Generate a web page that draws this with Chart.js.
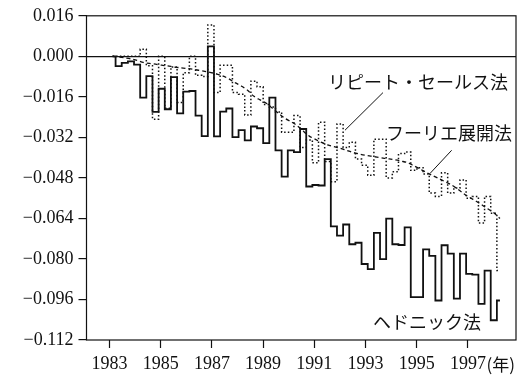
<!DOCTYPE html>
<html><head><meta charset="utf-8">
<script src="https://cdn.jsdelivr.net/npm/chart.js@4"></script>
<style>html,body{margin:0;padding:0;background:#fff}</style>
</head><body>
<canvas id="c" width="522" height="375"></canvas>
<script>
// quarterly periods 1983Q1 .. 1998Q4
const years = [1983,1984,1985,1986,1987,1988,1989,1990,1991,1992,1993,1994,1995,1996,1997,1998];
const quarters = [];
years.forEach(y => { for (let q = 1; q <= 4; q++) quarters.push(y + 'Q' + q); });

const hedonic = [
  0.0000,-0.0039,-0.0026,-0.0020,-0.0033,-0.0163,-0.0078,-0.0219,
 -0.0128,-0.0209,-0.0082,-0.0225,-0.0139,-0.0137,-0.0234,-0.0315,
  0.0039,-0.0316,-0.0218,-0.0206,-0.0319,-0.0291,-0.0332,-0.0277,
 -0.0284,-0.0343,-0.0163,-0.0371,-0.0475,-0.0371,-0.0378,-0.0287,
 -0.0514,-0.0508,-0.0510,-0.0406,-0.0671,-0.0708,-0.0664,-0.0742,
 -0.0736,-0.0820,-0.0840,-0.0697,-0.0801,-0.0641,-0.0742,-0.0745,
 -0.0675,-0.0951,-0.0951,-0.0762,-0.0788,-0.0964,-0.0746,-0.0779,
 -0.0957,-0.0779,-0.0859,-0.0862,-0.0977,-0.0846,-0.1042,-0.0964
];
const repeatSales = [
  0.0000, 0.0000, 0.0000, 0.0000, 0.0000, 0.0028,-0.0037,-0.0248,
  0.0000,-0.0205,-0.0042,-0.0182,-0.0065, 0.0000,-0.0075,-0.0080,
  0.0124,-0.0143,-0.0035,-0.0035,-0.0143,-0.0150,-0.0232,-0.0098,
 -0.0120,-0.0190,-0.0200,-0.0220,-0.0300,-0.0300,-0.0234,-0.0360,
 -0.0330,-0.0420,-0.0260,-0.0415,-0.0495,-0.0267,-0.0360,-0.0339,
 -0.0405,-0.0430,-0.0470,-0.0327,-0.0327,-0.0480,-0.0456,-0.0384,
 -0.0378,-0.0450,-0.0440,-0.0465,-0.0540,-0.0553,-0.0460,-0.0540,
 -0.0520,-0.0488,-0.0560,-0.0553,-0.0658,-0.0553,-0.0620,-0.0846
];
const fourier = [
  0.0000,-0.0003,-0.0006,-0.0010,-0.0016,-0.0024,-0.0028,-0.0031,
 -0.0035,-0.0038,-0.0042,-0.0045,-0.0048,-0.0051,-0.0055,-0.0059,
 -0.0064,-0.0070,-0.0078,-0.0090,-0.0105,-0.0118,-0.0135,-0.0158,
 -0.0172,-0.0185,-0.0205,-0.0225,-0.0244,-0.0258,-0.0273,-0.0295,
 -0.0315,-0.0328,-0.0340,-0.0350,-0.0357,-0.0363,-0.0371,-0.0379,
 -0.0385,-0.0390,-0.0394,-0.0398,-0.0402,-0.0405,-0.0409,-0.0414,
 -0.0420,-0.0432,-0.0445,-0.0458,-0.0470,-0.0482,-0.0494,-0.0506,
 -0.0522,-0.0540,-0.0556,-0.0570,-0.0585,-0.0602,-0.0618,-0.0640
];
const yTicks = [0.016, 0.000, -0.016, -0.032, -0.048, -0.064, -0.080, -0.096, -0.112];
const yearTicks = [1983, 1985, 1987, 1989, 1991, 1993, 1995, 1997];
const yearUnit = '(年)';
const seriesNames = ['ヘドニック法', 'リピート・セールス法', 'フーリエ展開法'];

const pts = arr => arr.map((v, i) => ({x: i, y: v}));

const annot = {
  id: 'annot',
  afterDraw(chart) {
    const ctx = chart.ctx, ca = chart.chartArea;
    const xs = chart.scales.x, ys = chart.scales.y, xy = chart.scales.xYear;
    const P = (i, v) => [xs.getPixelForValue(i), ys.getPixelForValue(v)];
    ctx.save();
    // frame
    ctx.strokeStyle = '#111'; ctx.lineWidth = 1.2;
    ctx.strokeRect(ca.left, ca.top, ca.right - ca.left, ca.bottom - ca.top);
    // leader lines
    ctx.lineWidth = 1;
    const leaders = [[[43.98, -0.01433], [37.80, -0.02918]], [[55.15, -0.0371], [51.63, -0.04625]]];
    leaders.forEach(([a, b]) => {
      const p = P(a[0], a[1]), q = P(b[0], b[1]);
      ctx.beginPath(); ctx.moveTo(p[0], p[1]); ctx.lineTo(q[0], q[1]); ctx.stroke();
    });
    // series labels
    ctx.fillStyle = '#111';
    ctx.font = '18px "Noto Sans CJK JP"';
    ctx.textBaseline = 'middle'; ctx.textAlign = 'left';
    const tl = [[seriesNames[1], 35.04, -0.01004], [seriesNames[2], 44.47, -0.03035], [seriesNames[0], 42.36, -0.10515]];
    tl.forEach(([t, i, v]) => { const p = P(i, v); ctx.fillText(t, p[0], p[1]); });
    // (年)
    const lastX = xy.getPixelForValue(yearTicks[yearTicks.length - 1]);
    ctx.font = '18px "Liberation Serif"';
    const w = ctx.measureText(String(yearTicks[yearTicks.length - 1])).width;
    ctx.font = '17px "Noto Sans CJK JP"';
    ctx.fillText(yearUnit, lastX + w / 2 + 0.5, 365);
    ctx.restore();
  }
};

Chart.defaults.font.family = '"Liberation Serif", serif';
Chart.defaults.font.size = 18;
Chart.defaults.color = '#111';

new Chart(document.getElementById('c'), {
  type: 'line',
  data: {
    labels: quarters,
    datasets: [
      {label: seriesNames[0], data: pts(hedonic), stepped: 'middle', borderColor: '#111', borderWidth: 1.8, pointRadius: 0, fill: false},
      {label: seriesNames[1], data: pts(repeatSales), stepped: 'middle', borderColor: '#111', borderWidth: 1.5, borderDash: [1.5, 2.2], pointRadius: 0, fill: false},
      {label: seriesNames[2], data: pts(fourier), borderColor: '#111', borderWidth: 1.3, borderDash: [4, 3], tension: 0.3, pointRadius: 0, fill: false}
    ]
  },
  options: {
    responsive: false, animation: false, devicePixelRatio: 1,
    layout: {padding: {top: 13, right: 6, left: 0, bottom: 0}},
    plugins: {legend: {display: false}, tooltip: {enabled: false}},
    scales: {
      x: {type: 'linear', min: -4.228, max: 65.61, display: false},
      xYear: {
        type: 'linear', position: 'bottom', min: 1982.102, max: 1998.879,
        afterBuildTicks: s => { s.ticks = yearTicks.map(v => ({value: v})); },
        afterFit: s => { s.height = 35; },
        ticks: {autoSkip: false, maxRotation: 0, padding: 5, callback: v => String(v)},
        grid: {drawOnChartArea: false, tickLength: 8, tickColor: '#111', tickWidth: 1.2},
        border: {display: false}
      },
      y: {
        type: 'linear', min: -0.112, max: 0.016,
        afterBuildTicks: s => { s.ticks = yTicks.map(v => ({value: v})); },
        afterFit: s => { s.width = 86.5; },
        ticks: {autoSkip: false, padding: 5, callback: v => (v < -1e-9 ? '\u2212' : '') + Math.abs(v).toFixed(3)},
        grid: {tickLength: 8, tickColor: '#111', tickWidth: 1.2, lineWidth: 1.2,
               color: c => (c.tick && Math.abs(c.tick.value) < 1e-9) ? '#111' : 'rgba(0,0,0,0)'},
        border: {display: false}
      }
    }
  },
  plugins: [annot]
});
</script>
</body></html>
